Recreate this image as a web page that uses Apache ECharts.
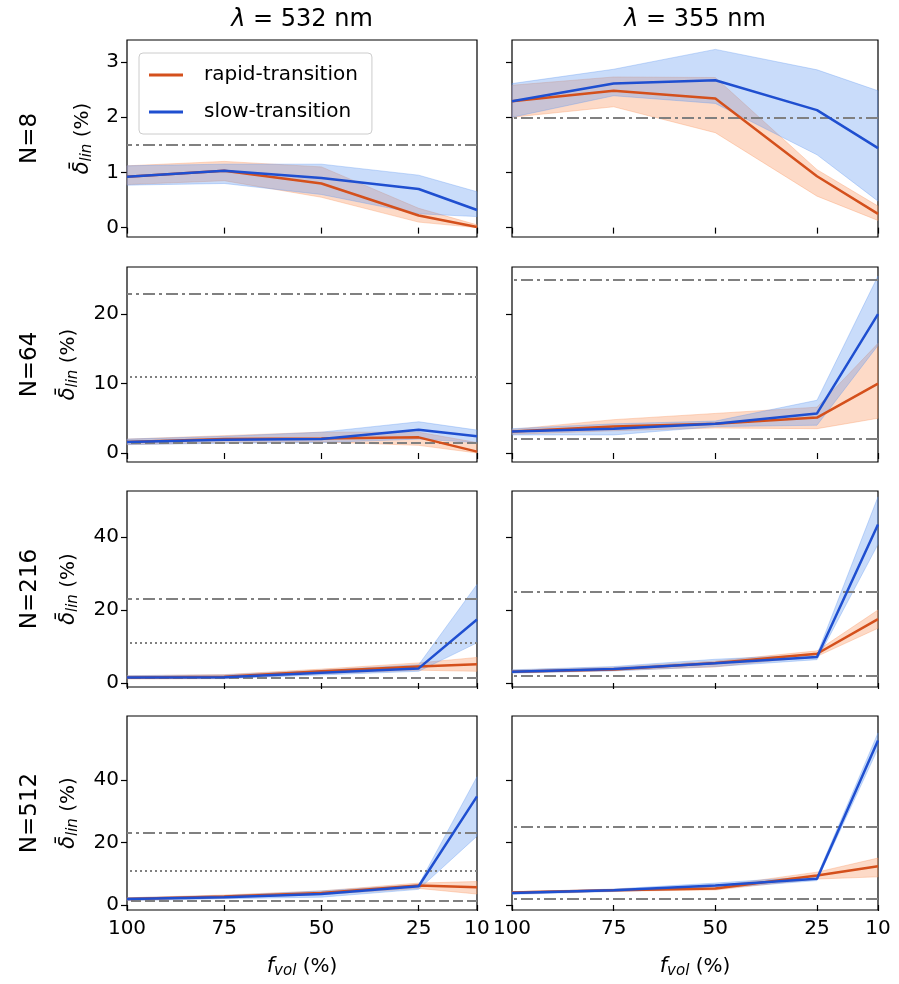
<!DOCTYPE html>
<html><head><meta charset="utf-8">
<script src="https://cdn.jsdelivr.net/npm/echarts@6/dist/echarts.min.js"></script>
<style>html,body{margin:0;background:#fff}#c{width:899px;height:984px}</style>
</head><body><div id="c"></div>
<script>
var fvol=[100,75,50,25,10];
var colTitles=['532','355'];
var rowNames=['N=8','N=64','N=216','N=512'];
// [row][col]
var rapidMean=[
  [[0.92,1.03,0.8,0.22,0.01],[2.29,2.48,2.34,0.93,0.25]],
  [[1.6,2.0,2.1,2.25,0.2],[3.1,3.8,4.2,5.1,10]],
  [[1.5,1.7,3.2,4.5,5.1],[3.1,3.7,5.5,8.0,17.5]],
  [[1.9,2.7,3.8,6.2,5.7],[4.0,4.7,5.3,9.4,12.4]]
];
var rapidLo=[
  [[0.78,0.85,0.55,0.1,0.0],[2.0,2.19,1.72,0.57,0.13]],
  [[1.2,1.5,1.6,1.1,0],[2.7,3.2,3.6,3.5,5]],
  [[1.1,1.2,2.5,3.5,3.2],[2.8,3.4,4.4,7.3,15]],
  [[1.5,2.2,3.3,5.3,3.5],[3.6,4.4,4.8,8.3,9]]
];
var rapidHi=[
  [[1.12,1.2,1.1,0.35,0.05],[2.58,2.73,2.72,1.05,0.39]],
  [[2.0,2.5,3.0,3.0,1.5],[3.4,4.8,5.7,6.6,15.8]],
  [[2.0,2.3,3.8,5.5,7],[3.5,4.3,6,8.8,20]],
  [[2.3,3.2,4.5,7,7.5],[4.3,5,6,10.5,15]]
];
var slowMean=[
  [[0.92,1.03,0.9,0.7,0.32],[2.29,2.61,2.67,2.13,1.44]],
  [[1.6,1.9,2.0,3.35,2.4],[3.1,3.5,4.2,5.7,20]],
  [[1.5,1.6,2.8,4.0,17.4],[3.1,3.8,5.4,7.1,43.4]],
  [[1.9,2.5,3.5,6.0,34.7],[3.8,4.7,6.2,8.4,52.6]]
];
var slowLo=[
  [[0.77,0.8,0.6,0.25,0.2],[2.0,2.39,2.25,1.32,0.48]],
  [[1.2,1.4,1.5,2.0,1.5],[2.6,2.6,3.8,4,15.5]],
  [[1.2,1.2,2.2,3.2,11],[2.7,3.3,4.5,6.4,38]],
  [[1.4,2,2.5,5,22],[3.4,4.3,5.3,7.8,50]]
];
var slowHi=[
  [[1.12,1.15,1.15,0.95,0.65],[2.61,2.87,3.23,2.86,2.48]],
  [[2.0,2.4,3.0,4.5,3.3],[3.5,4.2,4.6,7.6,25.5]],
  [[2,2.2,3.5,5,27],[3.6,4.5,6.5,7.8,51]],
  [[2.3,3,4.5,6.5,41],[4.2,5.1,7,9.2,55]]
];
// reference lines: dd dash-dot, dot, dash
var refLines=[
  [[[1.5,'dd']],[[2.0,'dd']]],
  [[[23,'dd'],[11,'dot'],[1.5,'dash']],[[25,'dd'],[2,'dd']]],
  [[[23,'dd'],[11,'dot'],[1.3,'dash']],[[25,'dd'],[2,'dd']]],
  [[[23,'dd'],[11,'dot'],[1.4,'dash']],[[25,'dd'],[2,'dd']]]
];
var yMin=[-0.17,-1.3,-1.1,-1.6], yMax=[3.4,26.8,52.6,60.4];
var yTicks=[[0,1,2,3],[0,10,20],[0,20,40],[0,20,40]];

var rowsY=[[40,237],[267,462],[491,687],[716,910]];
var colsX=[[127,477],[512,878]];
var C_R='#d4501c', C_S='#1f4fd0';
var dashes={dd:[12,4,3,4],dot:[2,3],dash:[10,4]};
var font='DejaVu Sans';

var grids=[],xAxes=[],yAxes=[],series=[],graphics=[];
function band(gi,lo,hi,fill){
  return {type:'custom',xAxisIndex:gi,yAxisIndex:gi,z:1,silent:true,data:[[fvol[0],lo[0]]],
    renderItem:function(p,api){
      var pts=[],i;
      for(i=0;i<fvol.length;i++)pts.push(api.coord([fvol[i],hi[i]]));
      for(i=fvol.length-1;i>=0;i--)pts.push(api.coord([fvol[i],lo[i]]));
      return {type:'polygon',shape:{points:pts},style:{fill:fill,stroke:fill,lineWidth:1}};
    }};
}
var subRich={i:{fontStyle:'italic',fontSize:21,fontFamily:font},s:{fontStyle:'italic',fontSize:15,fontFamily:font,padding:[10,0,0,0]}};
for(var r=0;r<4;r++){
  for(var c=0;c<2;c++){
    var gi=r*2+c;
    grids.push({left:colsX[c][0],width:colsX[c][1]-colsX[c][0],top:rowsY[r][0],height:rowsY[r][1]-rowsY[r][0],
      show:true,borderColor:'#000',borderWidth:1.2,backgroundColor:'transparent'});
    xAxes.push({type:'value',gridIndex:gi,min:10,max:100,inverse:true,
      axisLine:{show:false},splitLine:{show:false},
      axisTick:{show:true,customValues:fvol,length:6,lineStyle:{color:'#000',width:1.2}},
      axisLabel:{show:r===3,customValues:fvol,color:'#000',fontSize:20,fontFamily:font,margin:9},
      name:r===3?'{i|f}{s|vol} (%)':'',nameLocation:'middle',nameGap:44,
      nameTextStyle:{color:'#000',fontSize:20,fontFamily:font,rich:subRich}});
    yAxes.push({type:'value',gridIndex:gi,min:yMin[r],max:yMax[r],
      axisLine:{show:false},splitLine:{show:false},
      axisTick:{show:true,customValues:yTicks[r],length:6,lineStyle:{color:'#000',width:1.2}},
      axisLabel:{show:c===0,customValues:yTicks[r],color:'#000',fontSize:20,fontFamily:font,margin:8},
      name:c===0?'{i|δ̄}{s|lin} (%)':'',nameLocation:'middle',nameRotate:90,nameGap:r===0?32:46,
      nameTextStyle:{color:'#000',fontSize:20,fontFamily:font,rich:subRich}});
    series.push(band(gi,rapidLo[r][c],rapidHi[r][c],'rgba(250,150,95,0.35)'));
    series.push(band(gi,slowLo[r][c],slowHi[r][c],'rgba(90,150,240,0.33)'));
    var ml=refLines[r][c].map(function(l){
      return {yAxis:l[0],lineStyle:{color:'#808080',width:2.2,type:dashes[l[1]]}};
    });
    series.push({type:'line',name:'rapid-transition',xAxisIndex:gi,yAxisIndex:gi,z:3,symbol:'none',
      data:fvol.map(function(f,i){return [f,rapidMean[r][c][i]];}),
      lineStyle:{color:C_R,width:2.5},itemStyle:{color:C_R},
      markLine:{silent:true,symbol:'none',label:{show:false},data:ml,z:2}});
    series.push({type:'line',name:'slow-transition',xAxisIndex:gi,yAxisIndex:gi,z:4,symbol:'none',
      data:fvol.map(function(f,i){return [f,slowMean[r][c][i]];}),
      lineStyle:{color:C_S,width:2.5},itemStyle:{color:C_S}});
  }
  graphics.push({type:'text',x:30,y:(rowsY[r][0]+rowsY[r][1])/2,rotation:Math.PI/2,
    style:{text:rowNames[r],fontSize:23,fontFamily:font,fill:'#000',align:'center',verticalAlign:'middle'}});
}
for(var c2=0;c2<2;c2++){
  graphics.push({type:'text',x:(colsX[c2][0]+colsX[c2][1])/2,y:20,
    style:{rich:{i:{fontStyle:'italic',fontSize:24,fontFamily:font,fill:'#000'},n:{fontSize:24,fontFamily:font,fill:'#000'}},
      text:'{i|λ}{n| = '+colTitles[c2]+' nm}',align:'center',verticalAlign:'middle'}});
}
var chart=echarts.init(document.getElementById('c'));
chart.setOption({
  animation:false,
  grid:grids,xAxis:xAxes,yAxis:yAxes,series:series,graphic:graphics,
  legend:{data:[{name:'rapid-transition',icon:'rect'},{name:'slow-transition',icon:'rect'}],left:139,top:53,orient:'vertical',
    backgroundColor:'rgba(255,255,255,0.85)',borderColor:'#ccc',borderWidth:1,borderRadius:4,
    padding:[12,14,12,10],itemGap:17,itemWidth:34,itemHeight:3,
    textStyle:{fontSize:20,fontFamily:font,color:'#000',padding:[0,0,0,16]}}
});
</script></body></html>
